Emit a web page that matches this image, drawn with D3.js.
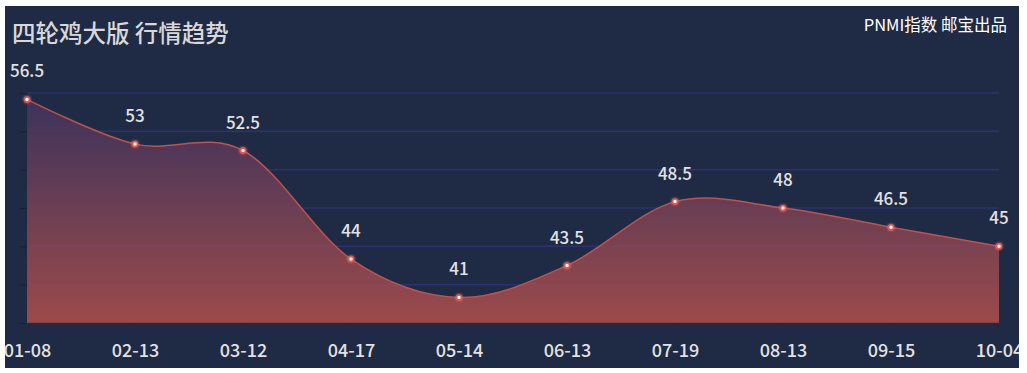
<!DOCTYPE html>
<html>
<head>
<meta charset="utf-8">
<script src="https://cdn.jsdelivr.net/npm/d3@7"></script>
<style>
  body { margin: 0; background: #fff; }
  #chart { position: absolute; left: 5px; top: 6px; width: 1014px; height: 362px; background: #1f2a44; overflow: hidden; }
  text { font-family: "Noto Sans CJK SC", "Noto Sans", sans-serif; }
</style>
</head>
<body>
<div id="chart"></div>
<script>
// data
let dates = ["01-08", "02-13", "03-12", "04-17", "05-14", "06-13", "07-19", "08-13", "09-15", "10-04"];
let prices = [56.5, 53, 52.5, 44, 41, 43.5, 48.5, 48, 46.5, 45];
let yTicks = [39, 42, 45, 48, 51, 54, 57];

let svgWidth = 1014;
let svgHeight = 362;
let margin = { top: 87, right: 20, bottom: 45, left: 22 };
let width = svgWidth - margin.left - margin.right;
let height = svgHeight - margin.top - margin.bottom;

let svg = d3.select("#chart")
  .append("svg")
  .attr("width", svgWidth)
  .attr("height", svgHeight);

// gradient for the area fill
let defs = svg.append("defs");
let grad = defs.append("linearGradient")
  .attr("id", "areaGrad")
  .attr("x1", 0).attr("y1", 0).attr("x2", 0).attr("y2", 1);
grad.append("stop").attr("offset", "0%").attr("stop-color", "rgb(66,52,96)").attr("stop-opacity", 0.85);
grad.append("stop").attr("offset", "100%").attr("stop-color", "rgb(178,80,75)").attr("stop-opacity", 0.85);

let glow = defs.append("filter").attr("id", "glow")
  .attr("x", "-100%").attr("y", "-100%").attr("width", "300%").attr("height", "300%");
glow.append("feGaussianBlur").attr("stdDeviation", 1.5).attr("result", "b");
let merge = glow.append("feMerge");
merge.append("feMergeNode").attr("in", "b");
merge.append("feMergeNode").attr("in", "SourceGraphic");

// title + note
svg.append("text")
  .attr("x", 7)
  .attr("y", 36)
  .attr("font-size", "23.5px")
  .attr("font-weight", 500)
  .attr("fill", "#d8d8d8")
  .text("四轮鸡大版 行情趋势");

svg.append("text")
  .attr("x", 1002)
  .attr("y", 25)
  .attr("text-anchor", "end")
  .attr("font-size", "16.5px")
  .attr("fill", "#ffffff")
  .text("PNMI指数 邮宝出品");

let chartGroup = svg.append("g")
  .attr("transform", `translate(${margin.left}, ${margin.top})`);

let xScale = d3.scalePoint()
  .domain(dates)
  .range([0, width]);

let yScale = d3.scaleLinear()
  .domain([39, 57])
  .range([height, 0]);

// grid lines
chartGroup.append("g")
  .selectAll("line")
  .data(yTicks.slice(1))
  .enter()
  .append("line")
  .attr("x1", 0)
  .attr("x2", width)
  .attr("y1", d => yScale(d))
  .attr("y2", d => yScale(d))
  .attr("stroke", "#2c3272")
  .attr("stroke-width", 1.5);

// y axis: ticks only, labels hidden
let leftAxis = d3.axisLeft(yScale).tickValues(yTicks).tickSize(7).tickFormat("");
chartGroup.append("g")
  .call(leftAxis)
  .call(g => g.select(".domain").attr("stroke", "#1c2236"))
  .call(g => g.selectAll(".tick line").attr("stroke", "#1a2033"));

let area = d3.area()
  .x((d, i) => xScale(dates[i]))
  .y0(height)
  .y1(d => yScale(d))
  .curve(d3.curveCardinal);

let line = d3.line()
  .x((d, i) => xScale(dates[i]))
  .y(d => yScale(d))
  .curve(d3.curveCardinal);

chartGroup.append("path")
  .datum(prices)
  .attr("d", area)
  .attr("fill", "url(#areaGrad)");

chartGroup.append("path")
  .datum(prices)
  .attr("d", line)
  .attr("fill", "none")
  .attr("stroke", "#c4504c")
  .attr("stroke-width", 1.5);

// x axis
let bottomAxis = d3.axisBottom(xScale).tickSize(5).tickPadding(16);
chartGroup.append("g")
  .attr("transform", `translate(0, ${height})`)
  .call(bottomAxis)
  .call(g => g.select(".domain").attr("stroke", "#2a2a36").attr("stroke-width", 1.5))
  .call(g => g.selectAll(".tick line").attr("stroke", "#2a2a36"))
  .call(g => g.selectAll(".tick text")
    .attr("fill", "#e2e2e2")
    .attr("font-size", "18px")
    .attr("font-weight", 500)
    .attr("font-family", "'Noto Sans CJK SC', sans-serif"));

// points
chartGroup.selectAll("circle")
  .data(prices)
  .enter()
  .append("circle")
  .attr("cx", (d, i) => xScale(dates[i]))
  .attr("cy", d => yScale(d))
  .attr("r", 2.5)
  .attr("fill", "#ffffff")
  .attr("stroke", "#e8524a")
  .attr("stroke-width", 1.5)
  .attr("filter", "url(#glow)");

// value labels
chartGroup.selectAll(".val")
  .data(prices)
  .enter()
  .append("text")
  .attr("class", "val")
  .attr("x", (d, i) => xScale(dates[i]))
  .attr("y", d => yScale(d) - 22)
  .attr("text-anchor", "middle")
  .attr("font-size", "17px")
  .attr("font-weight", 500)
  .attr("fill", "#e2e2e2")
  .text(d => d);
</script>
</body>
</html>
